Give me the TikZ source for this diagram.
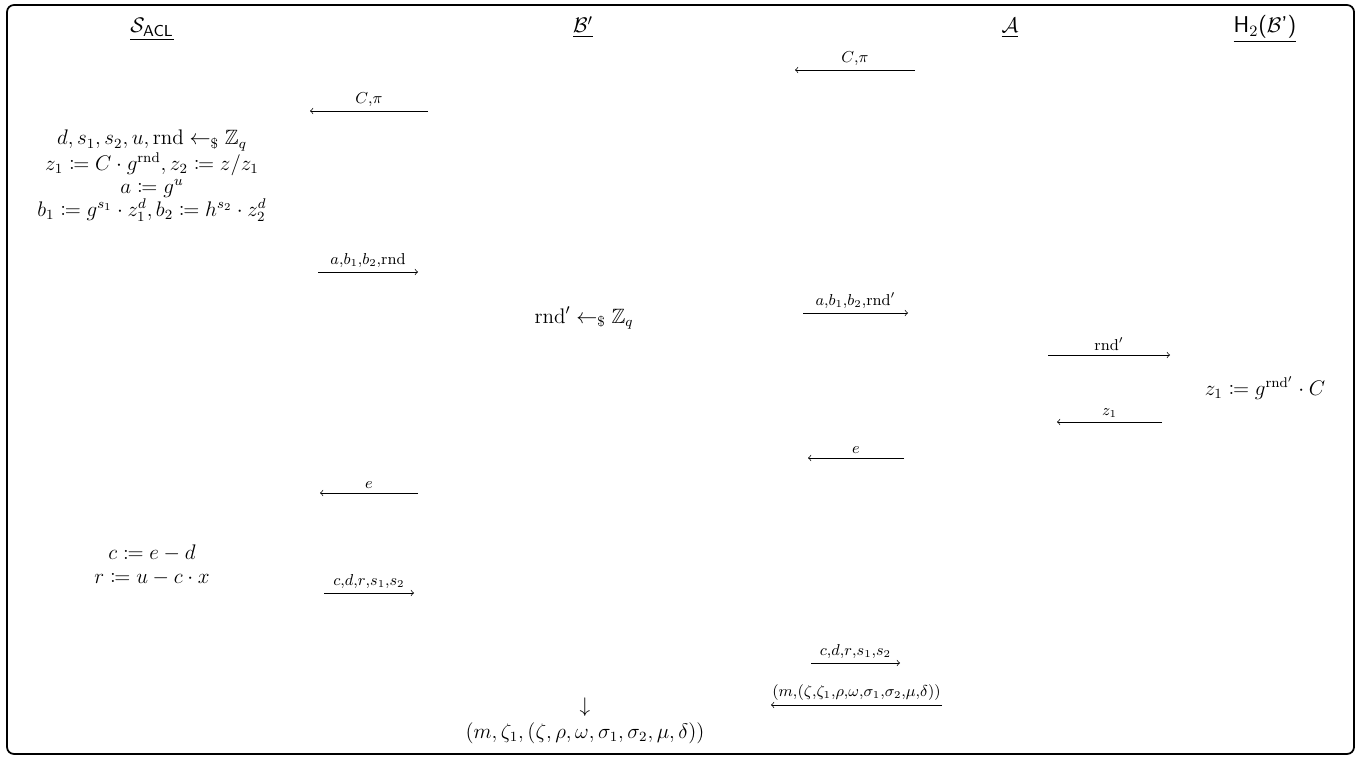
\documentclass[tikz,border=0pt]{standalone}
\usepackage{amssymb}
\usepackage{mathtools}

\tikzstyle{party}=[anchor=base,inner sep=1pt,font=\fontsize{13}{15}\selectfont]
\tikzstyle{calc}=[align=center,inner sep=1pt,font=\fontsize{11.8}{13.2}\selectfont]
\tikzstyle{msg}=[->,thin]
\tikzstyle{lbl}=[midway,above=-1pt,font=\fontsize{9}{11}\selectfont]

\newcommand{\rnd}{\mathrm{rnd}}
\newcommand{\sample}{\leftarrow_{\$}}

\begin{document}
\begin{tikzpicture}[>=to]
\useasboundingbox (0,0) rectangle (27.24,15.18);
\draw[line width=1pt,rounded corners=4pt] (0.14,0.10) rectangle (27.08,15.08);

% parties
\node[party] (sacl) at (3.04,14.52) {$\underline{\mathcal{S}_{\mathsf{ACL}}}$};
\node[party] (bprime) at (11.66,14.52) {$\underline{\mathcal{B}'}$};
\node[party] (adv) at (20.20,14.52) {$\underline{\mathcal{A}}$};
\node[party] (hash) at (25.30,14.52) {\underline{\textsf{H}$_2$\textsf{(}$\mathcal{B}$\textsf{')}}};

% computations
\node[calc] (sacl-commit) at (3.04,11.66) {$d, s_1, s_2, u, \rnd \sample \mathbb{Z}_q$\\
  $z_1 \coloneqq C \cdot g^{\rnd}, z_2 \coloneqq z/z_1$\\
  $a \coloneqq g^u$\\
  $b_1 \coloneqq g^{s_1} \cdot z_1^d, b_2 \coloneqq h^{s_2} \cdot z_2^d$};
\node[calc] (bprime-rnd) at (11.68,8.82) {$\rnd' \sample \mathbb{Z}_q$};
\node[calc] (hash-z) at (25.30,7.42) {$z_1 \coloneqq g^{\rnd'} \cdot C$};
\node[calc] (sacl-resp) at (3.04,3.88) {$c \coloneqq e - d$\\ $r \coloneqq u - c \cdot x$};
\node[calc] (bprime-down) at (11.70,1.04) {$\downarrow$};
\node[calc] (bprime-out) at (11.70,0.52) {$(m, \zeta_1, (\zeta, \rho, \omega, \sigma_1, \sigma_2, \mu, \delta))$};

% end points of the messages
\coordinate (m1-l) at (15.90,13.78); \coordinate (m1-r) at (18.30,13.78);
\coordinate (m2-l) at (6.20,12.96);  \coordinate (m2-r) at (8.56,12.96);
\coordinate (m3-l) at (6.36,9.74);   \coordinate (m3-r) at (8.36,9.74);
\coordinate (m4-l) at (16.06,8.92);  \coordinate (m4-r) at (18.16,8.92);
\coordinate (m5-l) at (20.96,8.08);  \coordinate (m5-r) at (23.40,8.08);
\coordinate (m6-l) at (21.14,6.74);  \coordinate (m6-r) at (23.24,6.74);
\coordinate (m7-l) at (16.16,6.02);  \coordinate (m7-r) at (18.08,6.02);
\coordinate (m8-l) at (6.40,5.32);   \coordinate (m8-r) at (8.36,5.32);
\coordinate (m9-l) at (6.48,3.32);   \coordinate (m9-r) at (8.28,3.32);
\coordinate (m10-l) at (16.22,1.92); \coordinate (m10-r) at (18.00,1.92);
\coordinate (m11-l) at (15.42,1.08); \coordinate (m11-r) at (18.84,1.08);

% messages
\draw[msg] (m1-r) -- (m1-l) node[lbl] {$C{,}\pi$};
\draw[msg] (m2-r) -- (m2-l) node[lbl] {$C{,}\pi$};
\draw[msg] (m3-l) -- (m3-r) node[lbl] {$a{,}b_1{,}b_2{,}\rnd$};
\draw[msg] (m4-l) -- (m4-r) node[lbl] {$a{,}b_1{,}b_2{,}\rnd'$};
\draw[msg] (m5-l) -- (m5-r) node[lbl] {$\rnd'$};
\draw[msg] (m6-r) -- (m6-l) node[lbl] {$z_1$};
\draw[msg] (m7-r) -- (m7-l) node[lbl] {$e$};
\draw[msg] (m8-r) -- (m8-l) node[lbl] {$e$};
\draw[msg] (m9-l) -- (m9-r) node[lbl] {$c{,}d{,}r{,}s_1{,}s_2$};
\draw[msg] (m10-l) -- (m10-r) node[lbl] {$c{,}d{,}r{,}s_1{,}s_2$};
\draw[msg] (m11-r) -- (m11-l) node[lbl] {$(m{,}(\zeta{,}\zeta_1{,}\rho{,}\omega{,}\sigma_1{,}\sigma_2{,}\mu{,}\delta))$};

\end{tikzpicture}
\end{document}
